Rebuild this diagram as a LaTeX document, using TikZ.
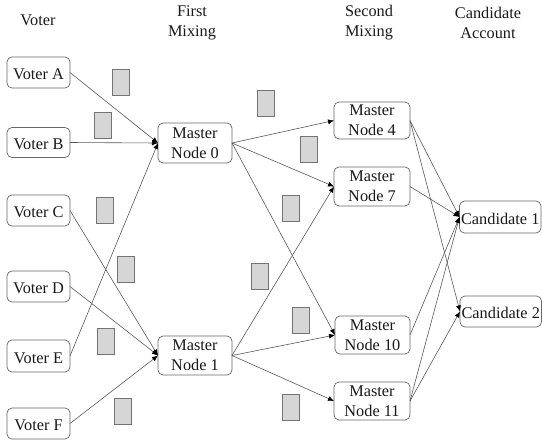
\documentclass[tikz,border=0pt]{standalone}
\usepackage{fontspec}
\setmainfont{Liberation Serif}
\usetikzlibrary{arrows.meta}
\tikzset{
  every node/.style={font=\fontsize{16.3}{20}\selectfont, text=black!90, inner sep=0pt, outer sep=0pt},
  box/.style={draw=black!60, line width=0.7pt, rounded corners=5pt, fill=white, align=center, execute at begin node={\rule{0pt}{15pt}}},
  pkt/.style={draw=black!55, line width=0.8pt, fill=black!16, minimum width=17.5pt, minimum height=26pt},
  head/.style={align=center},
  link/.style={draw=black!65, line width=0.6pt, -{Latex[length=6pt,width=5pt,black]}, shorten >=0pt}
}
\begin{document}
\begin{tikzpicture}[x=1pt,y=-1pt]
\useasboundingbox (0,0) rectangle (542,440);
% headers
\node[head] (h1) at (38,20) {Voter};
\node[head] (h2) at (192,23) {First\\Mixing};
\node[head] (h3) at (369,23) {Second\\Mixing};
\node[head] (h4) at (488,23) {Candidate\\Account};
% voters
\node[box, minimum width=63pt, minimum height=31pt] (va) at (38.5,72.5) {Voter A};
\node[box, minimum width=63pt, minimum height=30pt] (vb) at (38.5,142.5) {Voter B};
\node[box, minimum width=63pt, minimum height=31pt] (vc) at (38.5,210.5) {Voter C};
\node[box, minimum width=63pt, minimum height=31pt] (vd) at (38.5,286.5) {Voter D};
\node[box, minimum width=63pt, minimum height=32pt] (ve) at (38.5,356) {Voter E};
\node[box, minimum width=63pt, minimum height=31pt] (vf) at (38.5,423.5) {Voter F};
% first mixing
\node[box, minimum width=74pt, minimum height=40pt] (m0) at (195,143) {Master\\Node 0};
\node[box, minimum width=74pt, minimum height=39pt] (m1) at (195,355.5) {Master\\Node 1};
% second mixing
\node[box, minimum width=76pt, minimum height=37pt] (m4) at (372,120.5) {Master\\Node 4};
\node[box, minimum width=76pt, minimum height=39pt] (m7) at (372,186.5) {Master\\Node 7};
\node[box, minimum width=75pt, minimum height=38pt] (m10) at (372.5,335) {Master\\Node 10};
\node[box, minimum width=76pt, minimum height=38pt] (m11) at (372,401) {Master\\Node 11};
% candidates
\node[box, minimum width=81.5pt, minimum height=32pt] (c1) at (500.25,217) {Candidate 1};
\node[box, minimum width=81.5pt, minimum height=31pt] (c2) at (500.75,311.5) {Candidate 2};
% packets
\node[pkt] (p1) at (121,82) {};
\node[pkt] (p2) at (103,125) {};
\node[pkt] (p3) at (105,210) {};
\node[pkt] (p4) at (126,269) {};
\node[pkt] (p5) at (106,341.5) {};
\node[pkt] (p6) at (123,411) {};
\node[pkt] (p7) at (266,103.5) {};
\node[pkt] (p8) at (309,149.5) {};
\node[pkt] (p9) at (291,208.5) {};
\node[pkt] (p10) at (260,276.5) {};
\node[pkt] (p11) at (301,320.5) {};
\node[pkt] (p12) at (291,407.5) {};
% links
\foreach \a/\b in {va/m0,vb/m0,ve/m0,vc/m1,vd/m1,vf/m1,
  m0/m4,m0/m7,m0/m10,m1/m7,m1/m10,m1/m11,
  m4/c1,m4/c2,m7/c1,m10/c1,m11/c1,m11/c2}
  \draw[link] (\a.east) -- (\b.west);
\end{tikzpicture}
\end{document}
